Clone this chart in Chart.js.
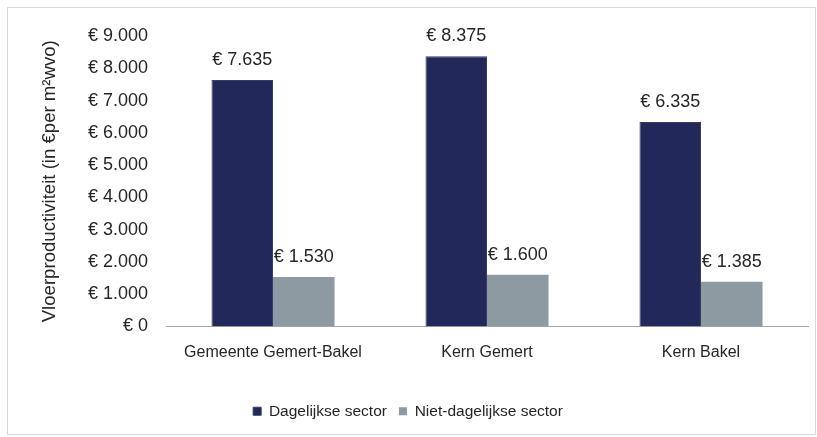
<!DOCTYPE html>
<html><head><meta charset="utf-8">
<script src="https://cdn.jsdelivr.net/npm/chart.js@4"></script>
<style>
html,body{margin:0;padding:0;background:#fff}
#wrap{position:relative;width:817px;height:437px}
#frame{position:absolute;left:7px;top:7px;width:807px;height:426px;border:1px solid #d9d9d9;pointer-events:none}
canvas{position:absolute;left:0;top:0}
</style></head><body>
<div id="wrap"><canvas id="c" width="817" height="437"></canvas><div id="frame"></div></div>
<script>
const categories = ["Gemeente Gemert-Bakel", "Kern Gemert", "Kern Bakel"];
const seriesNames = ["Dagelijkse sector", "Niet-dagelijkse sector"];
const dagelijkse = [7635, 8375, 6335];
const nietDagelijkse = [1530, 1600, 1385];
const yMin = 0, yMax = 9000, yStep = 1000;
const yTitle = "Vloerproductiviteit (in €per m²wvo)";

function fmt(v){ return '€ ' + String(v).replace(/\B(?=(\d{3})+(?!\d))/g, '.'); }

const dataLabels = {
  id: 'dataLabels',
  afterDatasetsDraw(chart){
    const ctx = chart.ctx;
    ctx.save();
    ctx.font = '18px "Liberation Sans", Arial, sans-serif';
    ctx.fillStyle = '#262626';
    ctx.textAlign = 'center';
    ctx.textBaseline = 'alphabetic';
    chart.data.datasets.forEach((ds, di) => {
      const meta = chart.getDatasetMeta(di);
      meta.data.forEach((el, i) => {
        const p = el.getProps(['x','y'], true);
        ctx.fillText(fmt(ds.data[i]), p.x, p.y - 15);
      });
    });
    ctx.restore();
  }
};

new Chart(document.getElementById('c'), {
  type: 'bar',
  data: {
    labels: categories,
    datasets: [
      {label: seriesNames[0], data: dagelijkse, backgroundColor: '#222859', borderColor: '#363d6b', borderWidth: 1},
      {label: seriesNames[1], data: nietDagelijkse, backgroundColor: '#8e9aa2', borderWidth: 0}
    ]
  },
  options: {
    responsive: false,
    animation: false,
    devicePixelRatio: 1,
    categoryPercentage: 0.575,
    barPercentage: 1,
    layout: {padding: {left: 8, right: 9, top: 36, bottom: 8}},
    plugins: {
      tooltip: {enabled: false},
      legend: {
        position: 'bottom',
        labels: {
          boxWidth: 8, boxHeight: 8, padding: 12,
          color: '#262626',
          font: {family: '"Liberation Sans", Arial, sans-serif', size: 15.5}
        }
      }
    },
    scales: {
      x: {
        grid: {display: false, drawTicks: false},
        border: {display: true, color: '#a6a6a6', width: 1},
        ticks: {padding: 16, color: '#262626', font: {family: '"Liberation Sans", Arial, sans-serif', size: 16}},
        afterFit(s){ s.height = 65; }
      },
      y: {
        min: yMin, max: yMax,
        grid: {display: false, drawTicks: false},
        border: {display: false},
        ticks: {stepSize: yStep, padding: 18, color: '#262626', font: {family: '"Liberation Sans", Arial, sans-serif', size: 18}, callback: v => fmt(v)},
        title: {display: true, text: yTitle, color: '#262626', padding: {top: 31, bottom: 0}, font: {family: '"Liberation Sans", Arial, sans-serif', size: 18.6}},
        afterFit(s){ s.width = 158; }
      }
    }
  },
  plugins: [dataLabels]
});
</script>
</body></html>
